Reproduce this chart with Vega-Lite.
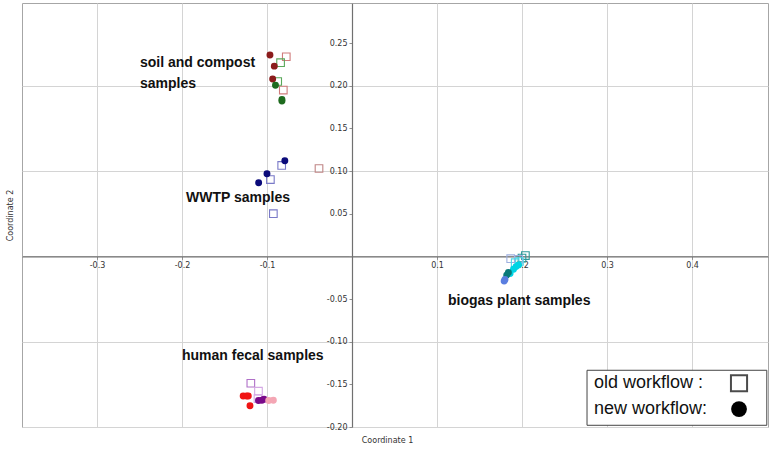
{
  "$schema": "https://vega.github.io/schema/vega-lite/v6.json",
  "width": 746,
  "height": 424,
  "autosize": {"type": "none"},
  "padding": {"left": 22, "top": 3, "right": 3, "bottom": 22},
  "background": "white",
  "config": {
    "view": {"stroke": "#a6a6a6", "strokeWidth": 1},
    "axis": {
      "labelFont": "DejaVu Sans",
      "labelFontSize": 8,
      "labelColor": "#333333",
      "titleFont": "DejaVu Sans",
      "titleFontSize": 8,
      "titleFontWeight": "normal",
      "titleColor": "#333333",
      "domainColor": "#707070",
      "domainWidth": 1.2,
      "tickColor": "#909090",
      "tickSize": 3,
      "gridColor": "#d4d4d4",
      "gridWidth": 1
    }
  },
  "datasets": {
    "old": [
      {"x": -0.0773, "y": 0.234, "series": "s3"},
      {"x": -0.0808, "y": 0.195, "series": "s3"},
      {"x": -0.084, "y": 0.227, "series": "s4"},
      {"x": -0.0874, "y": 0.205, "series": "s4"},
      {"x": -0.0827, "y": 0.1066, "series": "w2"},
      {"x": -0.096, "y": 0.09, "series": "w2"},
      {"x": -0.0925, "y": 0.05, "series": "w2"},
      {"x": -0.0388, "y": 0.103, "series": "w3"},
      {"x": 0.204, "y": 0.001, "series": "b1"},
      {"x": 0.2, "y": -0.002, "series": "b1"},
      {"x": 0.1867, "y": -0.0027, "series": "b2"},
      {"x": 0.196, "y": -0.0035, "series": "b2"},
      {"x": 0.192, "y": -0.0074, "series": "b3"},
      {"x": 0.197, "y": -0.006, "series": "b3"},
      {"x": -0.119, "y": -0.1487, "series": "h4"},
      {"x": -0.11, "y": -0.158, "series": "h5"},
      {"x": -0.1106, "y": -0.1667, "series": "h5"}
    ],
    "new": [
      {"x": -0.0965, "y": 0.236, "series": "s1"},
      {"x": -0.0914, "y": 0.223, "series": "s1"},
      {"x": -0.0933, "y": 0.208, "series": "s1"},
      {"x": -0.09, "y": 0.2006, "series": "s2"},
      {"x": -0.0824, "y": 0.182, "series": "s2"},
      {"x": -0.0824, "y": 0.184, "series": "s2"},
      {"x": -0.079, "y": 0.112, "series": "w1"},
      {"x": -0.1, "y": 0.0968, "series": "w1"},
      {"x": -0.1098, "y": 0.0863, "series": "w1"},
      {"x": 0.19, "y": -0.015, "series": "b4"},
      {"x": 0.196, "y": -0.01, "series": "b4"},
      {"x": 0.186, "y": -0.02, "series": "b4"},
      {"x": 0.193, "y": -0.012, "series": "b4"},
      {"x": 0.182, "y": -0.022, "series": "b5"},
      {"x": 0.184, "y": -0.019, "series": "b5"},
      {"x": 0.179, "y": -0.029, "series": "b6"},
      {"x": 0.18, "y": -0.027, "series": "b6"},
      {"x": -0.128, "y": -0.1636, "series": "h1"},
      {"x": -0.124, "y": -0.1636, "series": "h1"},
      {"x": -0.122, "y": -0.1636, "series": "h1"},
      {"x": -0.12, "y": -0.175, "series": "h1"},
      {"x": -0.11, "y": -0.169, "series": "h2"},
      {"x": -0.106, "y": -0.1686, "series": "h2"},
      {"x": -0.1035, "y": -0.1675, "series": "h2"},
      {"x": -0.098, "y": -0.169, "series": "h3"},
      {"x": -0.0925, "y": -0.1686, "series": "h3"}
    ],
    "notes": [
      {"x": -0.2494, "y": 0.227, "label": "soil and compost"},
      {"x": -0.2494, "y": 0.2026, "label": "samples"},
      {"x": -0.1953, "y": 0.0679, "label": "WWTP samples"},
      {"x": 0.113, "y": -0.0527, "label": "biogas plant samples"},
      {"x": -0.2, "y": -0.117, "label": "human fecal samples"}
    ],
    "box": [{"x": 0.2765, "x2": 0.488, "y": -0.1335, "y2": -0.198}],
    "keys": [
      {"x": 0.2847, "y": -0.1487, "label": "old workflow :", "sx": 0.4553},
      {"x": 0.2847, "y": -0.179, "label": "new workflow:", "sx": 0.4553}
    ]
  },
  "encoding": {
    "x": {
      "field": "x",
      "type": "quantitative",
      "scale": {"domain": [-0.3882, 0.4894], "nice": false, "zero": false},
      "axis": {
        "title": "Coordinate 1",
        "values": [-0.3, -0.2, -0.1, 0, 0.1, 0.2, 0.3, 0.4],
        "labelExpr": "datum.value == 0 ? '' : replace(format(datum.value, '.1f'), '\u2212', '-')",
        "offset": -170.6,
        "grid": true,
        "titleX": 365,
        "titleY": 184,
        "titleBaseline": "middle",
        "titleAnchor": null
      }
    },
    "y": {
      "field": "y",
      "type": "quantitative",
      "scale": {"domain": [-0.2, 0.297], "nice": false, "zero": false},
      "axis": {
        "title": "Coordinate 2",
        "values": [-0.2, -0.15, -0.1, -0.05, 0, 0.05, 0.1, 0.15, 0.2, 0.25],
        "labelExpr": "datum.value == 0 ? '' : replace(format(datum.value, '.2f'), '\u2212', '-')",
        "offset": -330,
        "grid": true,
        "gridOpacity": {"condition": {"test": "abs(round(datum.value * 20)) % 2 == 0", "value": 1}, "value": 0},
        "titleX": -342,
        "titleY": 212,
        "titleBaseline": "middle",
        "titleAnchor": null
      }
    }
  },
  "layer": [
    {
      "data": {"name": "old"},
      "mark": {"type": "point", "shape": "square", "filled": false, "size": 58, "strokeWidth": 1.1, "opacity": 1},
      "encoding": {
        "color": {
          "field": "series", "type": "nominal", "legend": null,
          "scale": {
            "domain": ["s1", "s2", "s3", "s4", "w1", "w2", "w3", "b1", "b2", "b3", "b4", "b5", "b6", "h1", "h2", "h3", "h4", "h5"],
            "range": ["#8b1c1c", "#1e6b1e", "#d07c7c", "#5aa85a", "#0b0b7a", "#7a7ac8", "#c08585", "#2d9a9a", "#9fb0e0", "#50d8e8", "#00d4e4", "#0a7a7a", "#5a7ee0", "#f01414", "#7a0a8a", "#f4a6b4", "#b070c8", "#d4a8e4"]
          }
        }
      }
    },
    {
      "data": {"name": "new"},
      "mark": {"type": "circle", "size": 48, "opacity": 1},
      "encoding": {
        "color": {"field": "series", "type": "nominal", "legend": null}
      }
    },
    {
      "data": {"name": "notes"},
      "mark": {"type": "text", "align": "left", "baseline": "middle", "font": "Liberation Sans", "fontSize": 14, "fontWeight": "bold", "color": "#111111"},
      "encoding": {"text": {"field": "label", "type": "nominal"}}
    },
    {
      "data": {"name": "box"},
      "mark": {"type": "rect", "fill": "white", "stroke": "#444444", "strokeWidth": 1},
      "encoding": {
        "x2": {"field": "x2"},
        "y2": {"field": "y2"}
      }
    },
    {
      "data": {"name": "keys"},
      "mark": {"type": "text", "align": "left", "baseline": "middle", "font": "Liberation Sans", "fontSize": 18, "color": "#111111"},
      "encoding": {"text": {"field": "label", "type": "nominal"}}
    },
    {
      "data": {"name": "keys"},
      "transform": [{"filter": "datum.label == 'old workflow :'"}],
      "mark": {"type": "point", "shape": "square", "filled": false, "size": 260, "strokeWidth": 2, "color": "black"},
      "encoding": {"x": {"field": "sx", "type": "quantitative"}}
    },
    {
      "data": {"name": "keys"},
      "transform": [{"filter": "datum.label == 'new workflow:'"}],
      "mark": {"type": "circle", "size": 250, "color": "black", "opacity": 1},
      "encoding": {"x": {"field": "sx", "type": "quantitative"}}
    }
  ]
}
